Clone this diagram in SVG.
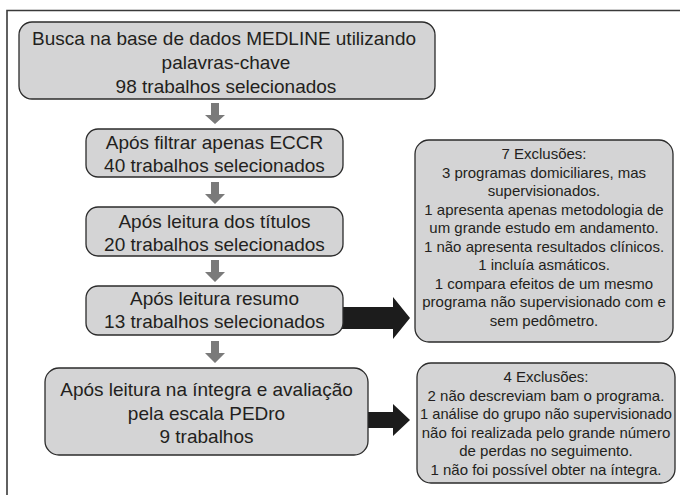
<svg xmlns="http://www.w3.org/2000/svg" width="680" height="495" viewBox="0 0 680 495">
<style>
.box{fill:#d4d4d5;stroke:#2b2b2b;stroke-width:1.3}
.t{font-family:"Liberation Sans",Arial,sans-serif;font-size:19px;fill:#231f20;text-anchor:middle}
.s{font-family:"Liberation Sans",Arial,sans-serif;font-size:15px;fill:#231f20;text-anchor:middle}
.ga{fill:#7a7a7a}
.ba{fill:#1c1c1c}
</style>
<rect width="680" height="495" fill="#fff"/>
<path d="M7,495 V10.5 H680" fill="none" stroke="#3a3a3a" stroke-width="1.6"/>
<g id="connectors">
<polygon class="ga" points="211,103 219,103 219,115 225,115 215,124 205,115 211,115"/>
<polygon class="ga" points="211,182 219,182 219,194 225,194 215,204 205,194 211,194"/>
<polygon class="ga" points="211,260 219,260 219,272 225,272 215,282 205,272 211,272"/>
<polygon class="ga" points="211,341 219,341 219,353 225,353 215,363 205,353 211,353"/>
<polygon class="ba" points="342,307 393,307 393,297 410,318 393,339 393,329 342,329"/>
<polygon class="ba" points="363,412 393,412 393,404 410,420 393,436 393,428 363,428"/>
</g>
<g id="n1">
<rect class="box" x="19" y="22" width="416" height="77" rx="13"/>
<text class="t" x="224" y="45" textLength="384" lengthAdjust="spacingAndGlyphs">Busca na base de dados MEDLINE utilizando</text>
<text class="t" x="226" y="69">palavras-chave</text>
<text class="t" x="226" y="93">98 trabalhos selecionados</text>
</g>
<g id="n2">
<rect class="box" x="86" y="129" width="257" height="48" rx="12"/>
<text class="t" x="214.5" y="149">Após filtrar apenas ECCR</text>
<text class="t" x="214.5" y="172">40 trabalhos selecionados</text>
</g>
<g id="n3">
<rect class="box" x="86" y="207" width="257" height="49" rx="12"/>
<text class="t" x="214.5" y="228">Após leitura dos títulos</text>
<text class="t" x="214.5" y="251">20 trabalhos selecionados</text>
</g>
<g id="n4">
<rect class="box" x="86" y="286" width="257" height="49" rx="12"/>
<text class="t" x="214.5" y="305">Após leitura resumo</text>
<text class="t" x="214.5" y="328">13 trabalhos selecionados</text>
</g>
<g id="n5">
<rect class="box" x="45" y="368" width="323" height="87" rx="14"/>
<text class="t" x="206.5" y="396">Após leitura na íntegra e avaliação</text>
<text class="t" x="206.5" y="420">pela escala PEDro</text>
<text class="t" x="206.5" y="443">9 trabalhos</text>
</g>
<g id="n6">
<rect class="box" x="415" y="140" width="258" height="202" rx="14"/>
<text class="s" x="544" y="159">7 Exclusões:</text>
<text class="s" x="544" y="177.5">3 programas domiciliares, mas</text>
<text class="s" x="544" y="196">supervisionados.</text>
<text class="s" x="544" y="214.5">1 apresenta apenas metodologia de</text>
<text class="s" x="544" y="233">um grande estudo em andamento.</text>
<text class="s" x="544" y="251.5">1 não apresenta resultados clínicos.</text>
<text class="s" x="544" y="270">1 incluía asmáticos.</text>
<text class="s" x="544" y="288.5">1 compara efeitos de um mesmo</text>
<text class="s" x="544" y="307">programa não supervisionado com e</text>
<text class="s" x="544" y="325.5">sem pedômetro.</text>
</g>
<g id="n7">
<rect class="box" x="417" y="363" width="258" height="120" rx="14"/>
<text class="s" x="546" y="382">4 Exclusões:</text>
<text class="s" x="546" y="400.5">2 não descreviam bam o programa.</text>
<text class="s" x="546" y="419" textLength="252" lengthAdjust="spacingAndGlyphs">1 análise do grupo não supervisionado</text>
<text class="s" x="546" y="437.5">não foi realizada pelo grande número</text>
<text class="s" x="546" y="456">de perdas no seguimento.</text>
<text class="s" x="546" y="474.5">1 não foi possível obter na íntegra.</text>
</g>
</svg>
